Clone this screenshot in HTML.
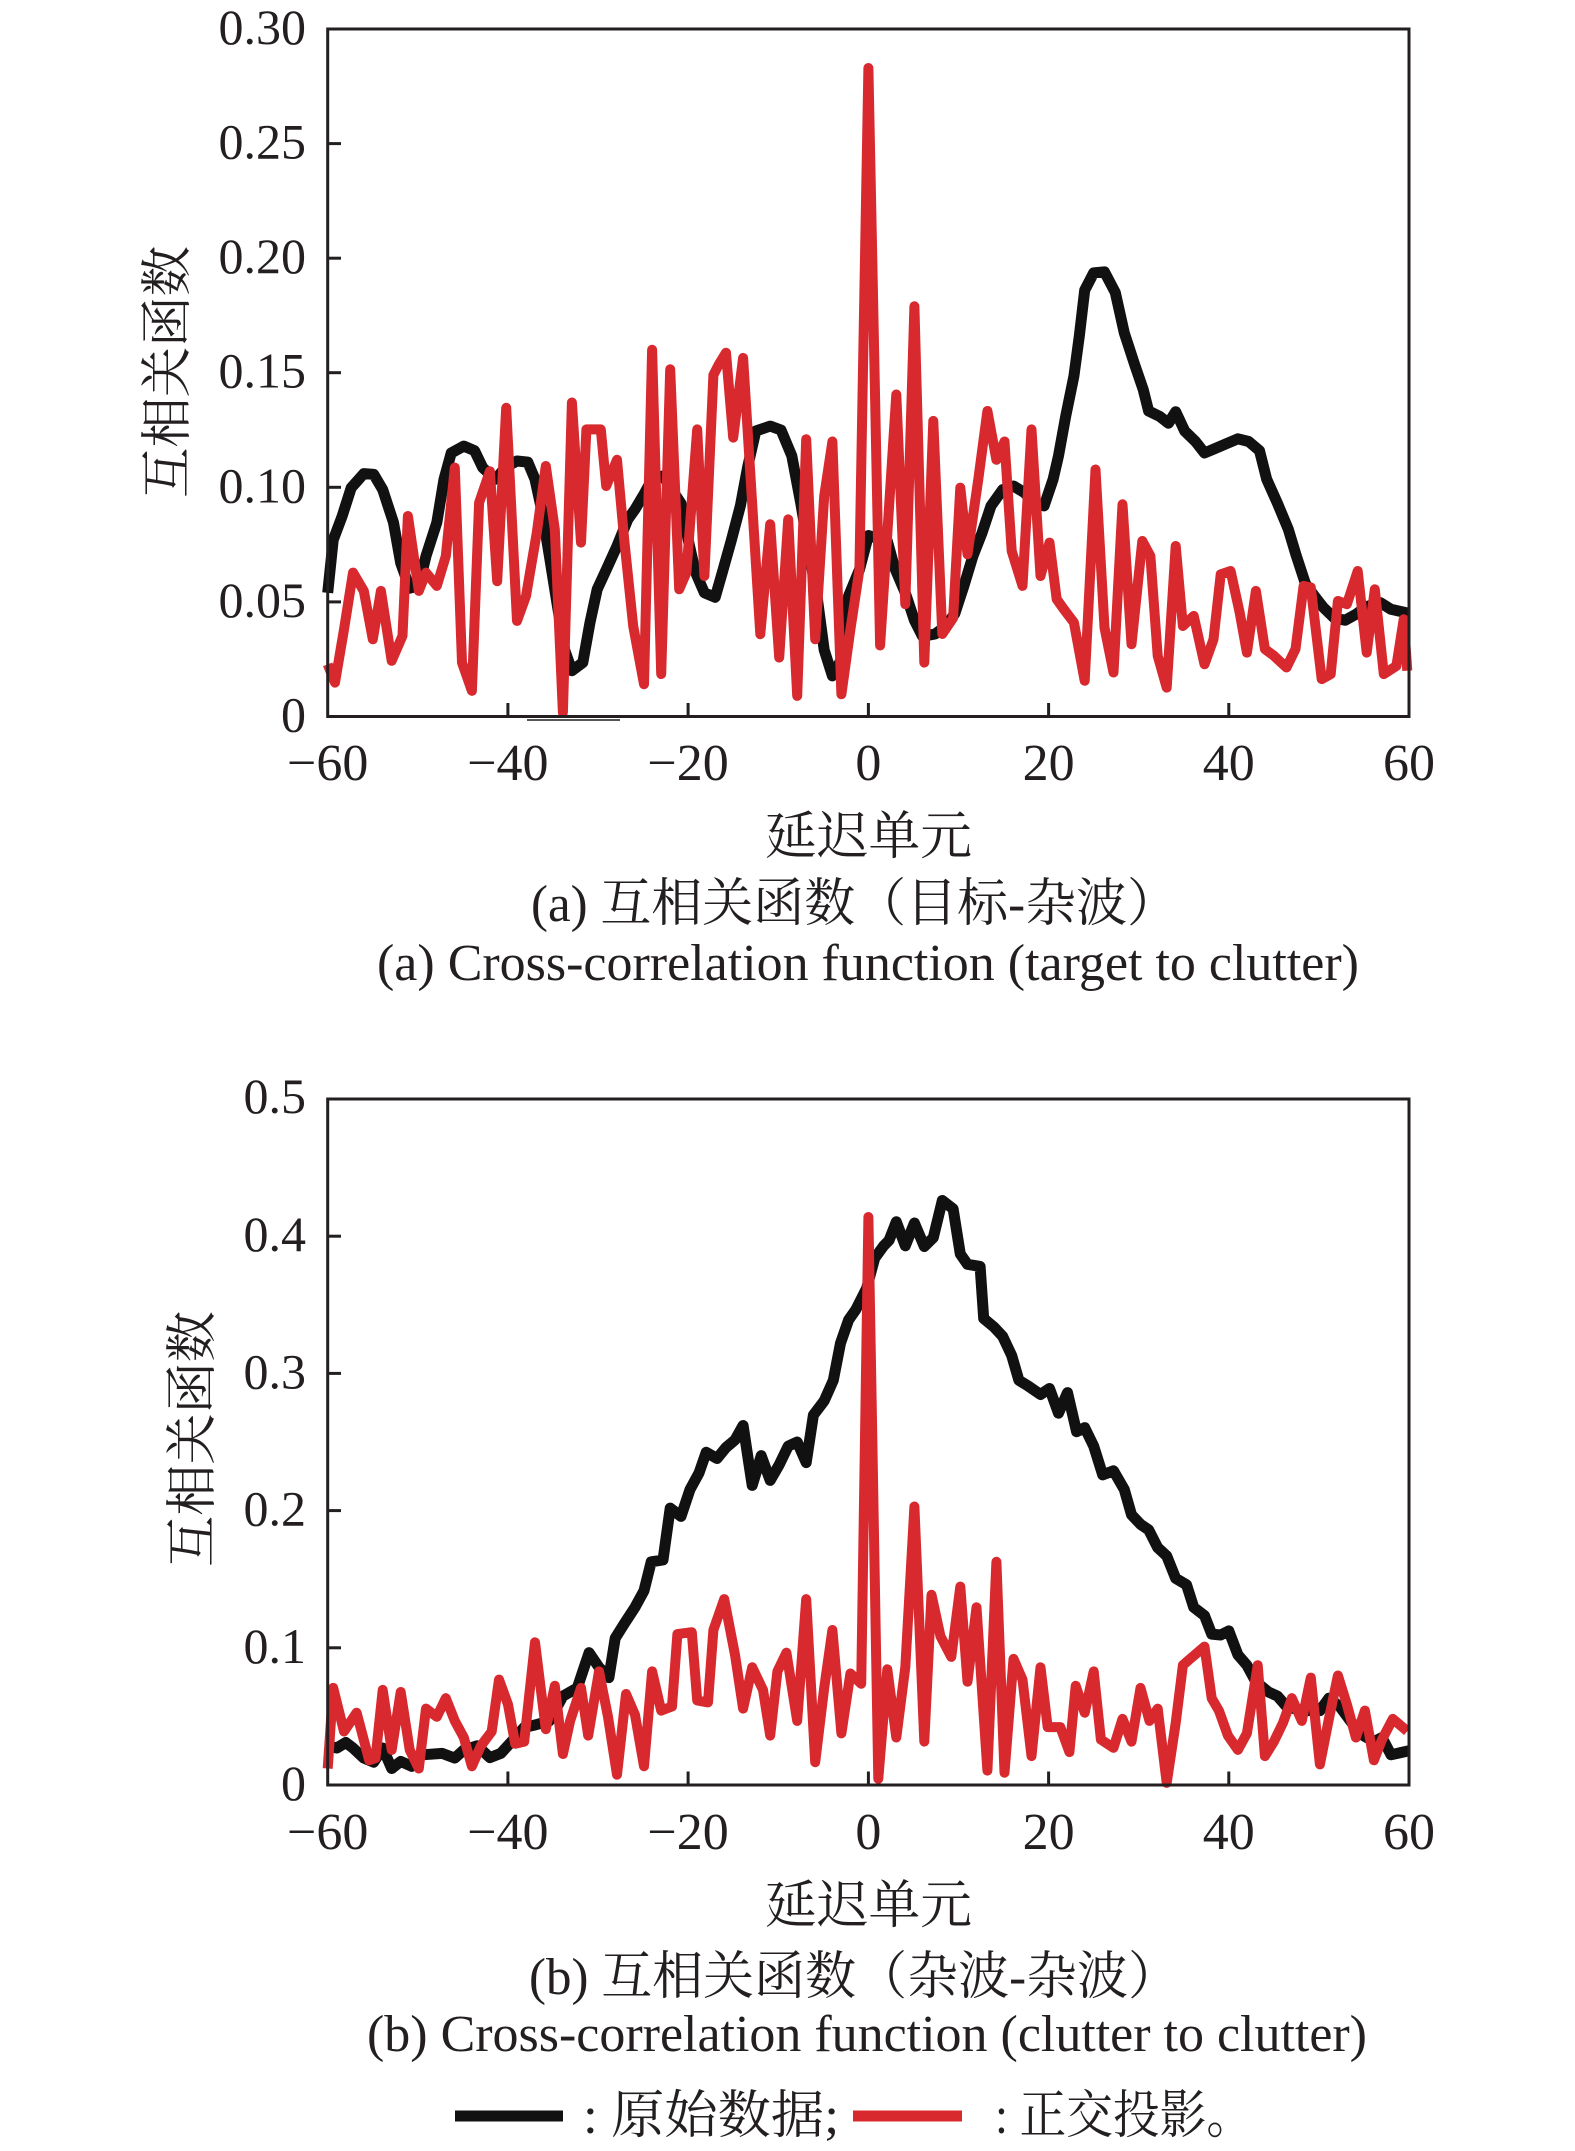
<!DOCTYPE html>
<html>
<head>
<meta charset="utf-8">
<style>
html,body{margin:0;padding:0;background:#fff;}
svg{display:block;}
.tk{font-family:"Liberation Serif",serif;font-size:50px;fill:#231f20;}
.xt{font-family:"Liberation Serif",serif;font-size:52px;fill:#231f20;text-anchor:middle;}
.cn{font-family:"Liberation Serif","Noto Serif CJK SC",serif;font-size:52px;fill:#231f20;}
.bl{fill:none;stroke:#111;stroke-width:11;stroke-linejoin:round;}
.rd{fill:none;stroke:#d8292f;stroke-width:10;stroke-linejoin:round;}
</style>
</head>
<body>
<svg width="1575" height="2151" viewBox="0 0 1575 2151" xmlns="http://www.w3.org/2000/svg">
<rect x="0" y="0" width="1575" height="2151" fill="#fff"/>

<!-- ================= Plot (a) ================= -->
<polyline class="bl" points="327.7,592.8 333.2,540.0 342.2,516.0 351.2,487.8 363.8,473.6 373.7,474.3 382.7,489.6 393.5,522.6 400.7,563.0 409.7,588.2 418.8,585.9 426.0,556.1 436.8,522.6 444.0,479.3 451.2,453.0 463.8,446.1 474.6,450.7 482.7,467.6 495.3,479.3 506.2,466.7 517.0,461.0 527.8,462.1 535.0,479.3 542.2,512.5 549.4,556.1 557.5,606.5 564.7,650.0 571.9,670.7 582.8,662.6 590.0,622.5 597.2,589.3 606.2,569.8 617.0,546.0 627.8,519.4 635.0,509.3 644.0,494.2 652.1,479.3 663.0,475.9 673.8,492.6 681.0,503.4 688.2,540.0 695.4,572.1 704.4,592.8 715.2,597.3 722.4,572.1 731.4,540.0 740.4,505.7 747.7,466.7 755.8,431.0 770.2,426.1 781.0,430.0 791.8,455.9 800.8,503.4 808.0,546.0 817.0,596.0 824.2,650.0 832.4,675.9 841.4,659.2 848.6,596.0 859.4,569.8 868.4,535.5 887.3,541.0 894.5,567.5 905.3,592.8 914.4,620.3 922.5,636.3 935.1,634.0 945.9,626.0 954.9,613.4 963.9,585.9 972.9,556.1 981.9,533.2 991.0,505.9 1002.7,489.6 1013.5,486.0 1024.3,492.6 1035.1,503.4 1044.1,505.9 1053.1,479.3 1058.5,455.9 1065.7,416.3 1073.9,376.2 1079.3,336.1 1084.7,290.2 1093.7,272.8 1104.5,271.9 1115.3,292.5 1124.3,332.9 1135.1,365.9 1143.2,389.5 1148.6,411.0 1159.5,416.3 1168.5,423.2 1175.7,411.7 1184.7,431.0 1195.5,441.5 1204.5,453.0 1215.3,448.4 1225.2,444.2 1237.9,438.8 1248.7,441.5 1259.5,450.7 1266.7,479.3 1277.5,503.4 1288.3,529.3 1296.4,556.1 1305.4,583.6 1314.4,596.0 1323.5,607.6 1334.3,618.0 1345.1,620.3 1355.9,614.3 1366.7,606.5 1380.2,602.6 1391.0,609.3 1409.1,613.4"/>
<polyline class="rd" points="327.7,664.3 335.0,682.6 344.0,629.4 353.0,572.6 363.8,590.9 372.8,639.3 380.9,590.9 391.7,660.8 402.5,635.8 407.9,516.0 418.8,590.9 426.0,572.6 436.8,585.9 445.8,556.1 454.8,467.6 462.0,662.6 471.9,690.8 479.1,502.7 489.9,471.3 497.2,581.3 506.2,407.8 517.0,620.9 526.0,596.0 536.8,532.7 545.8,466.0 554.8,529.3 562.9,712.6 571.9,402.5 581.0,542.6 586.4,429.4 600.8,429.4 606.2,486.0 617.0,459.8 624.2,539.4 633.2,626.0 644.0,684.2 652.1,349.8 661.2,674.1 670.2,369.3 679.2,589.3 686.4,572.6 697.2,429.4 704.4,576.0 713.4,375.0 718.8,364.5 726.0,352.8 733.2,437.6 743.1,357.9 760.3,634.2 770.2,524.2 779.2,657.6 788.2,519.4 797.2,695.9 806.2,439.2 815.2,639.3 824.2,496.0 832.4,441.5 841.4,694.3 850.4,629.4 859.4,569.8 868.4,68.0 880.1,645.5 896.3,394.5 905.3,604.2 914.4,306.3 924.3,662.6 933.3,420.9 942.3,634.0 953.1,618.0 960.3,487.6 967.5,554.3 978.3,479.3 987.4,411.0 996.4,459.8 1004.5,441.5 1011.7,551.0 1022.5,585.9 1031.5,429.4 1040.5,576.0 1049.5,542.6 1056.7,599.2 1063.9,609.3 1073.9,622.5 1084.7,680.8 1095.5,469.5 1104.5,627.6 1113.5,672.5 1122.5,504.3 1131.5,644.3 1142.3,541.0 1150.4,556.1 1157.7,655.8 1166.7,687.6 1175.7,546.0 1182.9,626.0 1193.7,615.9 1204.5,664.3 1213.5,639.3 1220.7,574.4 1230.6,571.0 1239.7,612.7 1246.9,652.6 1255.9,590.9 1264.9,649.1 1273.9,655.8 1286.5,667.5 1295.5,649.1 1303.6,585.9 1310.8,587.5 1321.7,679.1 1330.7,674.1 1337.9,601.0 1346.9,604.2 1357.7,571.0 1366.7,652.6 1374.8,589.3 1383.8,674.1 1396.4,665.9 1403.7,619.3 1407.3,670.7"/>
<!-- frame a -->
<rect x="327.7" y="29" width="1081.3" height="687.5" fill="none" stroke="#231f20" stroke-width="3"/>
<line x1="527" y1="720" x2="620" y2="720" stroke="#555" stroke-width="2"/>
<g stroke="#231f20" stroke-width="3">
<line x1="327.7" y1="143.6" x2="341" y2="143.6"/>
<line x1="327.7" y1="258.2" x2="341" y2="258.2"/>
<line x1="327.7" y1="372.7" x2="341" y2="372.7"/>
<line x1="327.7" y1="487.3" x2="341" y2="487.3"/>
<line x1="327.7" y1="601.9" x2="341" y2="601.9"/>
<line x1="507.9" y1="716.5" x2="507.9" y2="703"/>
<line x1="688.1" y1="716.5" x2="688.1" y2="703"/>
<line x1="868.4" y1="716.5" x2="868.4" y2="703"/>
<line x1="1048.6" y1="716.5" x2="1048.6" y2="703"/>
<line x1="1228.8" y1="716.5" x2="1228.8" y2="703"/>
</g>
<g class="tk" text-anchor="end">
<text x="306" y="44">0.30</text>
<text x="306" y="158.6">0.25</text>
<text x="306" y="273.2">0.20</text>
<text x="306" y="387.7">0.15</text>
<text x="306" y="502.3">0.10</text>
<text x="306" y="616.9">0.05</text>
<text x="306" y="731.5">0</text>
</g>
<g class="xt">
<text x="327.7" y="780">−60</text>
<text x="507.9" y="780">−40</text>
<text x="688.1" y="780">−20</text>
<text x="868.4" y="780">0</text>
<text x="1048.6" y="780">20</text>
<text x="1228.8" y="780">40</text>
<text x="1409" y="780">60</text>
</g>
<text class="cn" transform="translate(166 372) rotate(-90)" x="0" y="19" text-anchor="middle" font-size="50" textLength="252" lengthAdjust="spacingAndGlyphs">互相关函数</text>
<text class="cn" x="765" y="854" textLength="207" lengthAdjust="spacingAndGlyphs">延迟单元</text>
<text class="cn" x="531" y="921" textLength="647" lengthAdjust="spacingAndGlyphs">(a) 互相关函数（目标-杂波）</text>
<text class="cn" x="377" y="980" textLength="982" lengthAdjust="spacingAndGlyphs">(a) Cross-correlation function (target to clutter)</text>

<!-- ================= Plot (b) ================= -->
<polyline class="bl" points="327.7,1745.8 336.8,1748.0 345.8,1742.5 353.0,1748.0 363.8,1758.1 373.7,1762.2 382.7,1748.0 391.7,1768.5 400.7,1761.4 411.5,1766.3 422.4,1754.8 442.2,1753.4 454.8,1758.1 463.8,1749.9 477.3,1745.8 489.9,1757.6 500.8,1753.4 511.6,1741.6 524.2,1727.4 535.0,1725.0 549.4,1720.9 562.9,1696.1 577.3,1687.9 582.8,1671.4 589.1,1652.7 599.0,1667.3 608.9,1677.6 615.2,1638.2 624.2,1623.8 635.0,1607.3 644.0,1590.7 651.2,1561.8 663.0,1560.0 670.2,1508.1 681.0,1516.4 690.0,1489.5 699.0,1473.0 706.2,1452.3 717.0,1458.5 726.0,1447.5 735.0,1439.9 743.1,1425.5 752.2,1485.4 761.2,1455.7 770.2,1480.4 779.2,1464.8 788.2,1446.1 797.2,1442.0 806.2,1462.6 813.4,1415.1 824.2,1400.8 833.3,1380.3 840.5,1343.2 848.6,1319.9 855.8,1309.7 866.6,1288.3 874.7,1258.2 883.7,1245.8 889.1,1240.3 896.3,1221.8 905.3,1245.8 914.4,1223.0 924.3,1246.5 933.3,1237.6 942.3,1200.5 953.1,1208.8 960.3,1254.0 967.5,1264.3 980.1,1266.4 983.7,1318.5 993.7,1326.8 1002.7,1336.4 1011.7,1355.6 1018.9,1380.3 1027.9,1385.8 1040.5,1394.5 1049.5,1388.5 1058.5,1413.2 1067.5,1392.6 1076.6,1431.7 1084.7,1427.6 1093.7,1446.1 1102.7,1474.9 1113.5,1470.8 1124.3,1489.5 1131.5,1514.7 1140.5,1524.3 1148.6,1529.8 1157.7,1547.6 1166.7,1555.9 1175.7,1578.4 1186.5,1584.7 1193.7,1607.3 1204.5,1615.6 1211.7,1634.1 1220.7,1635.0 1228.8,1630.9 1237.9,1654.8 1246.9,1665.2 1255.9,1681.7 1268.5,1692.0 1277.5,1696.1 1286.5,1706.5 1301.8,1710.6 1319.9,1710.6 1328.9,1698.2 1339.7,1706.5 1350.5,1720.9 1359.5,1733.4 1373.9,1741.6 1382.0,1737.5 1391.0,1754.8 1409.1,1750.7"/>
<polyline class="rd" points="327.7,1768.5 333.2,1687.9 344.0,1731.5 356.6,1712.7 369.2,1760.3 375.5,1758.1 382.7,1689.9 391.7,1749.9 400.7,1692.0 409.7,1749.9 418.8,1768.5 426.0,1708.6 436.8,1716.8 445.8,1698.2 454.8,1720.9 463.8,1737.5 471.9,1766.3 480.9,1745.8 491.7,1731.5 499.0,1679.6 508.0,1704.5 515.2,1743.8 524.2,1741.6 535.0,1642.3 545.8,1729.2 554.8,1685.8 562.9,1754.0 570.1,1720.9 581.0,1687.9 588.2,1735.6 599.0,1671.4 608.0,1716.8 617.0,1774.7 626.0,1694.0 635.0,1714.8 644.0,1766.3 652.1,1671.4 661.2,1710.6 672.0,1706.5 677.4,1634.1 691.8,1632.2 697.2,1700.4 708.0,1702.4 713.4,1630.0 724.2,1599.1 735.0,1654.8 743.1,1708.6 752.2,1667.3 763.0,1689.9 770.2,1735.6 777.4,1671.4 786.4,1652.7 797.2,1720.9 806.2,1599.1 815.2,1762.2 824.2,1687.9 832.4,1630.0 841.4,1733.4 850.4,1673.5 861.2,1683.8 868.4,1217.0 878.3,1778.8 887.3,1669.3 896.3,1737.5 905.3,1667.3 914.4,1506.5 924.3,1741.6 931.5,1594.8 940.5,1636.3 951.3,1656.9 960.3,1586.6 967.5,1681.7 976.5,1607.3 987.4,1770.6 996.4,1561.8 1004.5,1772.7 1013.5,1658.9 1022.5,1679.6 1031.5,1756.1 1040.5,1667.3 1047.7,1727.1 1060.3,1727.1 1069.4,1752.1 1075.7,1685.8 1084.7,1712.7 1093.7,1671.4 1100.9,1739.6 1113.5,1747.8 1122.5,1718.9 1131.5,1741.6 1140.5,1687.9 1149.5,1720.9 1157.7,1708.6 1166.7,1782.9 1175.7,1723.0 1182.9,1665.2 1190.1,1658.9 1204.5,1646.6 1211.7,1698.2 1218.9,1710.6 1227.9,1735.6 1237.9,1749.9 1246.9,1733.4 1257.7,1665.2 1264.9,1756.1 1273.9,1741.6 1282.9,1723.0 1291.9,1698.2 1301.8,1720.9 1310.8,1677.6 1319.9,1764.4 1328.9,1718.9 1337.9,1675.5 1346.9,1704.5 1355.9,1737.5 1364.9,1710.6 1373.9,1760.3 1382.0,1739.6 1392.8,1718.9 1407.3,1731.2"/>
<rect x="327.7" y="1099" width="1081.3" height="686" fill="none" stroke="#231f20" stroke-width="3"/>
<g stroke="#231f20" stroke-width="3">
<line x1="327.7" y1="1236.2" x2="341" y2="1236.2"/>
<line x1="327.7" y1="1373.4" x2="341" y2="1373.4"/>
<line x1="327.7" y1="1510.6" x2="341" y2="1510.6"/>
<line x1="327.7" y1="1647.8" x2="341" y2="1647.8"/>
<line x1="507.9" y1="1785" x2="507.9" y2="1771.5"/>
<line x1="688.1" y1="1785" x2="688.1" y2="1771.5"/>
<line x1="868.4" y1="1785" x2="868.4" y2="1771.5"/>
<line x1="1048.6" y1="1785" x2="1048.6" y2="1771.5"/>
<line x1="1228.8" y1="1785" x2="1228.8" y2="1771.5"/>
</g>
<g class="tk" text-anchor="end">
<text x="306" y="1113">0.5</text>
<text x="306" y="1251.2">0.4</text>
<text x="306" y="1388.4">0.3</text>
<text x="306" y="1525.6">0.2</text>
<text x="306" y="1662.8">0.1</text>
<text x="306" y="1800">0</text>
</g>
<g class="xt">
<text x="327.7" y="1849">−60</text>
<text x="507.9" y="1849">−40</text>
<text x="688.1" y="1849">−20</text>
<text x="868.4" y="1849">0</text>
<text x="1048.6" y="1849">20</text>
<text x="1228.8" y="1849">40</text>
<text x="1409" y="1849">60</text>
</g>
<text class="cn" transform="translate(191 1439) rotate(-90)" x="0" y="19" text-anchor="middle" font-size="51" textLength="256" lengthAdjust="spacingAndGlyphs">互相关函数</text>
<text class="cn" x="765" y="1923" textLength="207" lengthAdjust="spacingAndGlyphs">延迟单元</text>
<text class="cn" x="529" y="1994" textLength="650" lengthAdjust="spacingAndGlyphs">(b) 互相关函数（杂波-杂波）</text>
<text class="cn" x="367" y="2051" textLength="1000" lengthAdjust="spacingAndGlyphs">(b) Cross-correlation function (clutter to clutter)</text>

<!-- legend -->
<line x1="455" y1="2116" x2="563" y2="2116" stroke="#111" stroke-width="11"/>
<text class="cn" x="583" y="2133" textLength="256" lengthAdjust="spacingAndGlyphs">: 原始数据;</text>
<line x1="853" y1="2116" x2="962" y2="2116" stroke="#d8292f" stroke-width="11"/>
<text class="cn" x="995" y="2133" textLength="258" lengthAdjust="spacingAndGlyphs">: 正交投影。</text>
</svg>
</body>
</html>
